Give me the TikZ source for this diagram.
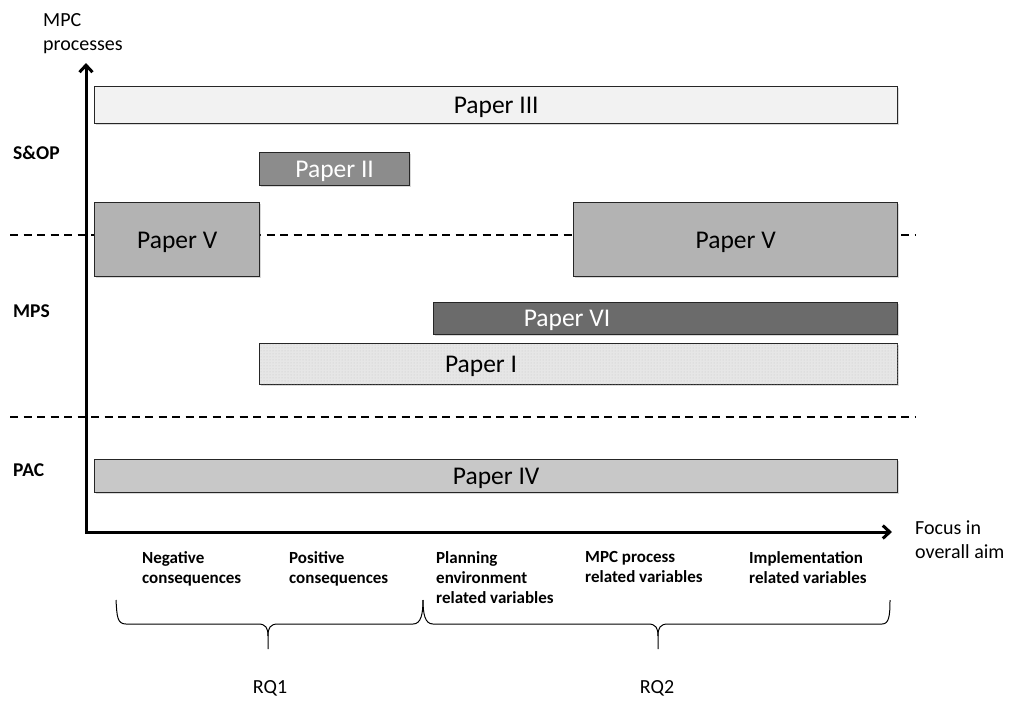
\documentclass[tikz,border=0pt]{standalone}
\usepackage{fontspec}
\setmainfont{Carlito}
\usetikzlibrary{arrows.meta,patterns,shadows}
\definecolor{boxIII}{HTML}{F2F2F2}
\definecolor{boxII}{HTML}{8C8C8C}
\definecolor{boxV}{HTML}{B3B3B3}
\definecolor{boxVI}{HTML}{6B6B6B}
\definecolor{boxI}{HTML}{E6E6E6}
\definecolor{boxIV}{HTML}{C8C8C8}
\definecolor{edge}{HTML}{262626}

\begin{document}
\begin{tikzpicture}[x=1pt,y=-1pt,
  paper/.style={draw=edge, line width=1.4pt, anchor=north west, inner sep=0pt,
    font=\fontsize{25.5}{30}\selectfont, text height=17pt, text depth=0pt,
    drop shadow={shadow xshift=1.5pt, shadow yshift=-1.5pt, opacity=0.3}},
  papertext/.style={font=\fontsize{25.5}{30}\selectfont, text height=17pt, text depth=0pt, inner sep=0pt},
  level/.style={font=\bfseries\fontsize{19.5}{23}\selectfont, anchor=west, inner sep=0pt},
  axislabel/.style={font=\fontsize{20}{24}\selectfont, align=left, anchor=north west, inner sep=0pt},
  topic/.style={font=\bfseries\fontsize{17}{20}\selectfont, align=left, anchor=north west, inner sep=0pt},
  rq/.style={font=\fontsize{20}{24}\selectfont, inner sep=0pt},
  divider/.style={line width=1.2pt, dash pattern=on 8pt off 5.5pt},
  axis/.style={line width=3pt, line join=miter},
  brace/.style={line width=1pt},
]
\useasboundingbox (0,0) rectangle (1010,702);

% level dividers
\coordinate (d1l) at (10,235);  \coordinate (d1r) at (915,235);
\coordinate (d2l) at (10,417);  \coordinate (d2r) at (915,417);
\draw[divider] (d1l) -- (d1r);
\draw[divider] (d2l) -- (d2r);

% papers
\node[paper, fill=boxIII, minimum width=803pt, minimum height=37pt] (p3) at (94,86) {Paper III};
\node[paper, fill=boxII, text=white, minimum width=150pt, minimum height=33pt] (p2) at (259,152) {Paper II};
\node[paper, fill=boxV, minimum width=165pt, minimum height=74pt] (p5a) at (94,202) {Paper V};
\node[paper, fill=boxV, minimum width=324pt, minimum height=74pt] (p5b) at (573,202) {Paper V};
\node[paper, fill=boxVI, minimum width=464pt, minimum height=32pt] (p6) at (433,302) {};
\node[papertext, text=white] (p6t) at (567,318) {Paper VI};
\node[paper, fill=boxI, postaction={pattern=dots, pattern color=gray!45}, minimum width=638pt, minimum height=41pt] (p1) at (259,343) {};
\node[papertext] (p1t) at (481,363.5) {Paper I};
\node[paper, fill=boxIV, minimum width=803pt, minimum height=33pt] (p4) at (94,459) {Paper IV};

% axes
\coordinate (ytip) at (86,63);
\coordinate (origin) at (86,532);
\coordinate (xtip) at (892,532);
\draw[axis, {Straight Barb[length=7pt,width=13pt]}-{Straight Barb[length=7pt,width=13pt]}] (ytip) -- (origin) -- (xtip);

\node[axislabel] (ylab) at (43,13) {MPC\\processes};
\node[axislabel] (xlab) at (915,521) {Focus in\\overall aim};

% process levels
\node[level] (sop) at (13,153) {S\&OP};
\node[level] (mps) at (13,311) {MPS};
\node[level] (pac) at (13,470) {PAC};

% focus areas
\node[topic] (neg) at (142,551) {Negative\\consequences};
\node[topic] (pos) at (289,551) {Positive\\consequences};
\node[topic] (env) at (436,551) {Planning\\environment\\related variables};
\node[topic] (proc) at (585,551) {MPC process\\related variables};
\node[topic] (impl) at (749,551) {Implementation\\related variables};

% research question braces
\coordinate (b1l) at (116,600);
\coordinate (b1m) at (268,649);
\coordinate (bj) at (423,600);
\coordinate (b2m) at (658,649);
\coordinate (b2r) at (890,600);
\draw[brace] (b1l) .. controls (117,616) and (117,624) .. (126,624) -- (258,624)
  .. controls (266,624) and (268,628) .. (268,636) -- (b1m);
\draw[brace] (268,636) .. controls (268,628) and (270,624) .. (278,624) -- (413,624)
  .. controls (421,624) and (423,614) .. (bj);
\draw[brace] (bj) .. controls (423,614) and (425,624) .. (433,624) -- (648,624)
  .. controls (656,624) and (658,628) .. (658,636) -- (b2m);
\draw[brace] (658,636) .. controls (658,628) and (660,624) .. (668,624) -- (882,624)
  .. controls (889,624) and (890,616) .. (b2r);

\node[rq] (rq1) at (270,688) {RQ1};
\node[rq] (rq2) at (657,688) {RQ2};
\end{tikzpicture}
\end{document}
